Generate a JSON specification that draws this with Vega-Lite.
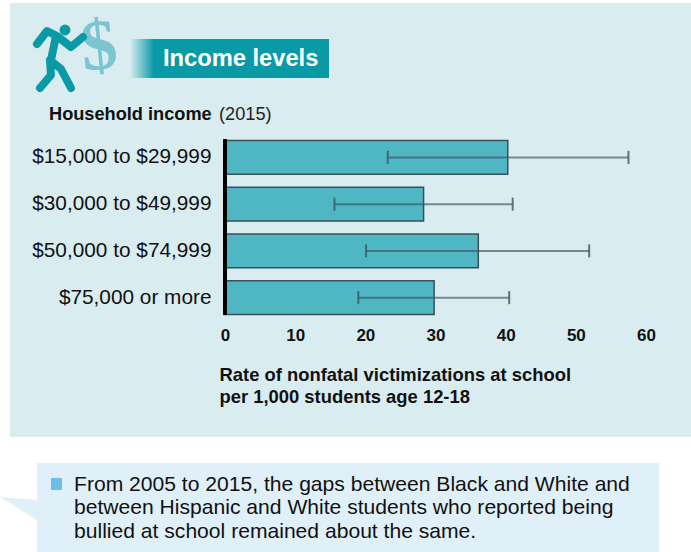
{
"$schema":"https://vega.github.io/schema/vega-lite/v6.json",
"width":421,"height":187,
"autosize":{"type":"none"},
"padding":{"left":225,"top":134,"right":45,"bottom":231},
"background":"#ffffff",
"config":{"view":{"stroke":null},"font":"Liberation Sans"},
"data":{"values":[
{"income":"$15,000 to $29,999","rate":40.3,"low":23.2,"high":57.5},
{"income":"$30,000 to $49,999","rate":28.3,"low":15.6,"high":41.0},
{"income":"$50,000 to $74,999","rate":36.1,"low":20.1,"high":51.9},
{"income":"$75,000 or more","rate":29.8,"low":19.0,"high":40.5}
]},
"layer":[
{"data":{"values":[{}]},"mark":{"type":"rect","fill":"#d9ecf0"},"encoding":{"x":{"value":-215},"x2":{"value":466},"y":{"value":-131},"y2":{"value":303}}},
{"data":{"values":[{}]},"mark":{"type":"rect","fill":"#e0f0f8"},"encoding":{"x":{"value":-188},"x2":{"value":434},"y":{"value":329},"y2":{"value":418}}},
{"data":{"values":[{}]},"mark":{"type":"point","shape":"M0 497 L37 500 L37 520 L0 497 Z","size":4,"filled":true,"fill":"#e0f0f8","opacity":1},"encoding":{"x":{"value":-225},"y":{"value":-134}}},
{"data":{"values":[{}]},"mark":{"type":"rect","fill":{"gradient":"linear","x1":0,"x2":1,"y1":0,"y2":0,"stops":[{"offset":0,"color":"#d9ecf0"},{"offset":0.12,"color":"#0a9aa6"},{"offset":1,"color":"#0a9aa6"}]}},"encoding":{"x":{"value":-95},"x2":{"value":104},"y":{"value":-95},"y2":{"value":-56}}},
{"data":{"values":[{"t":"$"}]},"mark":{"type":"text","font":"Liberation Sans Narrow","fontWeight":"bold","fontSize":72,"color":"#7cc4d0","angle":-6,"align":"center","baseline":"middle"},"encoding":{"text":{"field":"t"},"x":{"value":-126},"y":{"value":-87}}},
{"data":{"values":[{}]},"mark":{"type":"point","shape":"M37 44 L47 31 L57 36 L71 47 L83 37 M56 36 L51 60 M50 60 L61 69 L71 88 M50 60 L51 75 L40 88","size":4,"filled":false,"stroke":"#0a9aa6","strokeWidth":8,"strokeCap":"round","strokeJoin":"round","opacity":1},"encoding":{"x":{"value":-225},"y":{"value":-134}}},
{"data":{"values":[{}]},"mark":{"type":"circle","size":120,"fill":"#0a9aa6","opacity":1},"encoding":{"x":{"value":-160},"y":{"value":-104}}},
{"data":{"values":[{"t":"Income levels"}]},"mark":{"type":"text","fontWeight":"bold","fontSize":23.7,"color":"#ffffff","align":"left","baseline":"middle"},"encoding":{"text":{"field":"t"},"x":{"value":-62},"y":{"value":-75}}},
{"data":{"values":[{"t":"Household income"}]},"mark":{"type":"text","fontWeight":"bold","fontSize":18.2,"color":"#111111","align":"left","baseline":"middle"},"encoding":{"text":{"field":"t"},"x":{"value":-176},"y":{"value":-19}}},
{"data":{"values":[{"t":"(2015)"}]},"mark":{"type":"text","fontSize":18.2,"color":"#222222","align":"left","baseline":"middle"},"encoding":{"text":{"field":"t"},"x":{"value":-6},"y":{"value":-19}}},
{"data":{"values":[{}]},"mark":{"type":"rect","fill":"#6cc0e8"},"encoding":{"x":{"value":-174},"x2":{"value":-163},"y":{"value":344},"y2":{"value":356}}},
{"data":{"values":[{"t":"From 2005 to 2015, the gaps between Black and White and","v":351},{"t":"between Hispanic and White students who reported being","v":374},{"t":"bullied at school remained about the same.","v":398}]},"mark":{"type":"text","fontSize":21.1,"color":"#111111","align":"left","baseline":"middle"},"encoding":{"text":{"field":"t"},"x":{"value":-151},"y":{"field":"v","type":"quantitative","scale":null}}},
{"mark":{"type":"bar","fill":"#4fb6c4","stroke":"#3d4f55","strokeWidth":1.5},"encoding":{
"y":{"field":"income","type":"nominal","sort":null,"title":null,"scale":{"paddingInner":0.28,"paddingOuter":0.14},"axis":{"zindex":1,"domain":false,"ticks":false,"labelFontSize":20.8,"labelColor":"#111111","labelPadding":14,"labelLimit":300}},
"x":{"field":"rate","type":"quantitative","scale":{"domain":[0,60],"nice":false},"axis":{"zindex":1,"title":["Rate of nonfatal victimizations at school","per 1,000 students age 12-18"],"values":[0,10,20,30,40,50,60],"domain":false,"ticks":false,"grid":false,"labelFontSize":17,"labelFontWeight":"bold","labelColor":"#111111","labelPadding":6,"labelFlush":false,"titleFontSize":18.4,"titleFontWeight":"bold","titleColor":"#111111","titleAnchor":"start","titleAlign":"left","titleBaseline":"middle","titleX":-6,"titleY":53,"titleLineHeight":22}}
}},
{"mark":{"type":"rule","stroke":"#3f5560","strokeOpacity":0.65,"strokeWidth":2},"encoding":{"y":{"field":"income","type":"nominal","sort":null},"x":{"field":"low","type":"quantitative"},"x2":{"field":"high"}}},
{"mark":{"type":"tick","orient":"vertical","size":13,"thickness":2,"color":"#3f5560","opacity":0.8},"encoding":{"y":{"field":"income","type":"nominal","sort":null},"x":{"field":"low","type":"quantitative"}}},
{"mark":{"type":"tick","orient":"vertical","size":13,"thickness":2,"color":"#3f5560","opacity":0.8},"encoding":{"y":{"field":"income","type":"nominal","sort":null},"x":{"field":"high","type":"quantitative"}}},
{"data":{"values":[{}]},"mark":{"type":"rect","fill":"#000000"},"encoding":{"x":{"value":-2},"x2":{"value":2},"y":{"value":5},"y2":{"value":181}}}
]
}
